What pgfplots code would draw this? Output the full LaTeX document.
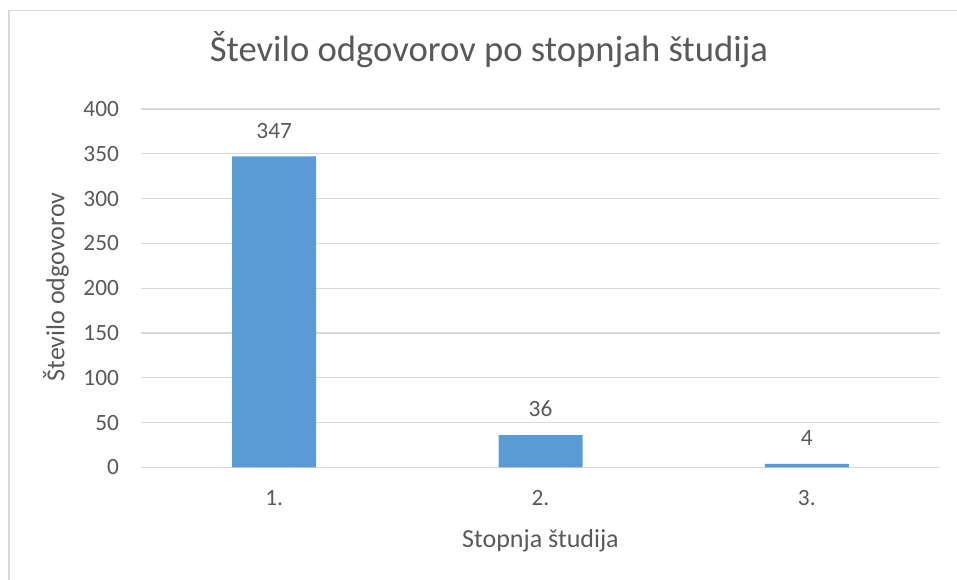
\documentclass[border=0pt]{standalone}
\usepackage{fontspec}
\setmainfont{Carlito}
\usepackage{pgfplots}
\pgfplotsset{compat=1.18}
\definecolor{txt}{HTML}{595959}
\definecolor{barblue}{HTML}{5B9BD5}
\definecolor{grd}{HTML}{D9D9D9}
\begin{document}
\begin{tikzpicture}
\useasboundingbox (0,0) rectangle (717.75pt,-435pt);
\draw[grd, line width=1.2pt] (6.6pt,-440pt) -- (6.6pt,-7.9pt) -- (725pt,-7.9pt);
\node[txt, font=\fontsize{27.5}{32}\selectfont] at (366.75pt,-37.5pt) {Število odgovorov po stopnjah študija};
\begin{axis}[
    at={(105.75pt,-350.6pt)}, anchor=south west,
    scale only axis, width=599.25pt, height=268.9pt,
    xmin=0.5, xmax=3.5, ymin=0, ymax=400,
    ytick={0,50,...,400}, xtick={1,2,3}, xticklabels={1.,2.,3.},
    axis line style={draw=none}, major tick style={draw=none},
    ymajorgrids, major grid style={grd, line width=0.9pt},
    /pgf/number format/assume math mode=true,
    tick label style={font=\fontsize{17.5}{20}\selectfont, text=txt},
    yticklabel style={xshift=-13pt},
    xticklabel style={yshift=-14pt},
    label style={font=\fontsize{19.5}{23}\selectfont, text=txt},
    xlabel={Stopnja študija}, ylabel={Število odgovorov},
    xlabel style={at={(axis description cs:0.5,-0.205)}, anchor=center},
    ylabel style={at={(axis description cs:-0.1064,0.5035)}, anchor=center},
  ]
  \addplot[ybar, bar width=63pt, fill=barblue, draw=none,
    nodes near coords,
    every node near coord/.style={font=\fontsize{17.5}{20}\selectfont, text=txt, yshift=10pt}]
    coordinates {(1,347) (2,36) (3,4)};
\end{axis}
\end{tikzpicture}
\end{document}
